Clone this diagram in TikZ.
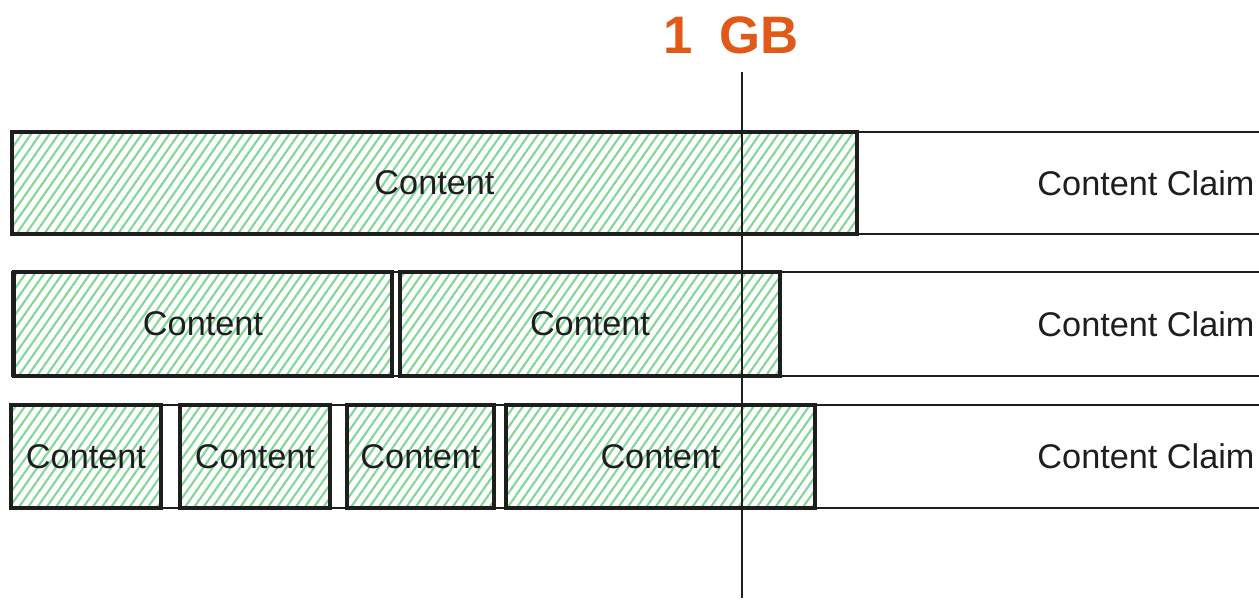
\documentclass[tikz,border=0pt]{standalone}
\usepackage{fontspec}
\setmainfont{Liberation Sans}
\usepackage{tikz}
\usetikzlibrary{patterns.meta}
\definecolor{hatchgreen}{RGB}{130,214,150}
\definecolor{limitorange}{RGB}{226,88,22}
\definecolor{ink}{RGB}{30,30,30}

\begin{document}
\begin{tikzpicture}[font=\fontsize{19.5}{22}\selectfont, text=ink]
       \tikzstyle{claim} = [rectangle, minimum width=45.36cm, text centered, draw=ink, line width=1.2pt]
       \tikzstyle{content} = [rectangle, text centered, draw=ink, line width=1.8pt, pattern={Lines[angle=55,distance=4.3pt,line width=1.2pt]}, pattern color=hatchgreen]
       \clip (0cm,0cm) rectangle (25.18cm,-12cm);
       % claims, open to the right
       \node[claim, minimum height=2.04cm] (claim-1) at (22.92cm,-3.66cm) {Content Claim};
       \node[claim, minimum height=2.08cm] (claim-2) at (22.92cm,-6.48cm) {Content Claim};
       \node[claim, minimum height=2.06cm] (claim-3) at (22.92cm,-9.13cm) {Content Claim};

       \node[content, minimum width=16.9cm, minimum height=2.04cm] (A-1) at (8.69cm,-3.66cm) {Content};

        \foreach \i/\x/\w in {1/4.06/7.56,2/11.8/7.6}
        {
          \node[content, minimum width=\w cm, minimum height=2.08cm] (B-\i) at (\x cm,-6.48cm) {Content};
        }
        \foreach \i/\x/\w in {1/1.72/3.0,2/5.1/3.0,3/8.41/2.94,4/13.21/6.18}
        {
          \node[content, minimum width=\w cm, minimum height=2.06cm] (C-\i) at (\x cm,-9.13cm) {Content};
        }

       % the 1 GB limit
       \node[text=limitorange, font=\fontsize{30}{34}\selectfont\bfseries] (gb) at (14.62cm,-0.7cm) {1\,\,\,GB};
       \coordinate (limit-top) at (14.84cm,-1.44cm);
       \coordinate (limit-bottom) at (14.84cm,-11.96cm);
       \draw[draw=ink, line width=1.2pt] (limit-top) -- (limit-bottom);
   \end{tikzpicture}
\end{document}
